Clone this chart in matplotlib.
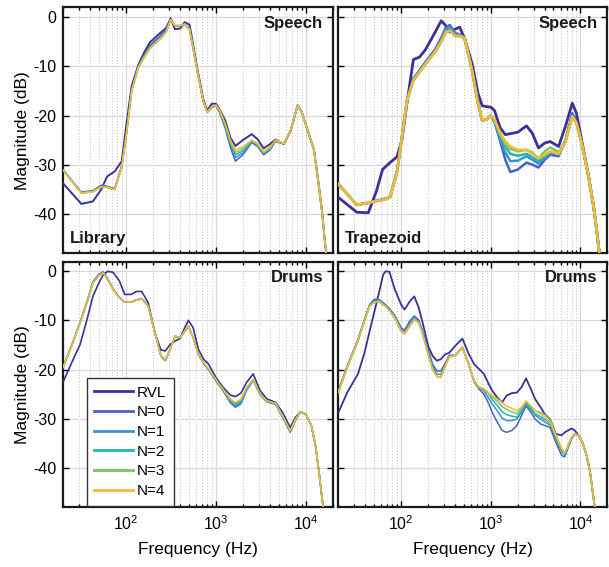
import matplotlib
matplotlib.use("Agg")
import matplotlib.pyplot as plt
from matplotlib.ticker import LogLocator, NullFormatter, FixedLocator

plt.rcParams['font.family'] = ['Liberation Sans', 'DejaVu Sans']
plt.rcParams['axes.unicode_minus'] = False
plt.rcParams['mathtext.fontset'] = 'custom'
plt.rcParams['mathtext.rm'] = 'Liberation Sans'
plt.rcParams['mathtext.it'] = 'Liberation Sans:italic'
plt.rcParams['mathtext.bf'] = 'Liberation Sans:bold'

series_names = ["RVL", "N=0", "N=1", "N=2", "N=3", "N=4"]
colors = ['#3b3196', '#4a62bf', '#3893d8', '#1db8b2', '#7cc65a', '#f8b836']

# ---------------- Top-left: Speech / Library ----------------
F_TL = [20, 32, 43, 53, 62, 75, 90, 102, 116, 137, 160, 185, 240, 280, 315, 350, 400, 450, 510, 620,
        720, 800, 900, 1000, 1100, 1270, 1450, 1650, 2000, 2500, 2900, 3400, 4000, 4600, 5700, 6800, 8100,
        9000, 10300, 12300, 14000, 15200, 16200, 17000]
TL_RVL = [-33.8, -38.0, -37.5, -35.1, -32.4, -31.4, -29.3, -21.5, -14.0, -9.8,
          -7.1, -5.1, -3.2, -2.2, -0.2, -2.4, -2.3, -1.0, -1.5, -10.3,
          -16.5, -19.0, -17.6, -17.6, -18.8, -21.0, -24.5, -26.2, -25.0, -23.8,
          -24.8, -26.7, -25.8, -24.9, -25.8, -23.0, -17.9, -19.3, -22.6, -27.0,
          -34.5, -39.9, -45.3, -48.6]
TL_N0 = [-31.0, -35.6, -35.3, -34.2, -34.4, -34.9, -30.2, -23.0, -14.6, -9.9,
         -7.6, -5.7, -3.8, -2.5, -0.4, -1.8, -1.8, -1.4, -2.4, -10.7,
         -16.9, -19.4, -18.4, -18.0, -19.4, -22.6, -26.5, -29.3, -28.0, -25.5,
         -26.3, -28.0, -27.0, -25.3, -25.8, -23.1, -17.9, -19.3, -22.6, -27.0,
         -34.5, -39.9, -45.3, -48.6]
TL_N1 = [-31.1, -35.7, -35.4, -34.4, -34.5, -35.0, -30.4, -23.3, -14.8, -10.1,
         -7.9, -6.1, -4.2, -2.8, -0.5, -1.7, -1.7, -1.4, -2.4, -10.8,
         -16.9, -19.3, -18.3, -18.0, -19.2, -22.2, -26.0, -28.6, -27.6, -25.3,
         -26.1, -27.8, -26.8, -25.2, -25.7, -23.0, -17.9, -19.3, -22.6, -27.0,
         -34.5, -39.9, -45.3, -48.6]
TL_N2 = [-31.1, -35.8, -35.5, -34.5, -34.6, -35.1, -30.5, -23.5, -15.0, -10.3,
         -8.1, -6.3, -4.4, -3.0, -0.5, -1.7, -1.7, -1.4, -2.4, -10.8,
         -16.9, -19.3, -18.2, -17.9, -19.1, -22.0, -25.6, -28.0, -27.2, -25.2,
         -26.0, -27.6, -26.7, -25.2, -25.7, -23.0, -17.9, -19.3, -22.6, -27.0,
         -34.5, -39.9, -45.3, -48.6]
TL_N3 = [-31.1, -35.8, -35.5, -34.5, -34.6, -35.1, -30.5, -23.5, -15.0, -10.3,
         -8.1, -6.3, -4.4, -3.0, -0.5, -1.7, -1.7, -1.4, -2.4, -10.8,
         -16.9, -19.3, -18.2, -17.9, -19.0, -21.8, -25.3, -27.5, -26.8, -25.1,
         -25.9, -27.5, -26.6, -25.1, -25.7, -23.0, -17.9, -19.3, -22.6, -27.0,
         -34.5, -39.9, -45.3, -48.6]
TL_N4 = [-31.1, -35.8, -35.5, -34.5, -34.6, -35.1, -30.5, -23.5, -15.0, -10.3,
         -8.1, -6.3, -4.4, -3.0, -0.5, -1.7, -1.7, -1.4, -2.4, -10.8,
         -16.9, -19.3, -18.2, -17.9, -18.9, -21.6, -25.0, -27.0, -26.4, -25.0,
         -25.7, -27.4, -26.4, -25.0, -25.7, -23.0, -17.9, -19.3, -22.6, -27.0,
         -34.5, -39.9, -45.3, -48.6]

# ---------------- Top-right: Speech / Trapezoid ----------------
F_TR = F_TL
TR_RVL = [-36.7, -39.7, -39.8, -35.4, -31.0, -29.6, -28.4, -25.0, -17.5, -8.6,
          -8.1, -6.7, -3.0, -0.7, -1.7, -3.0, -2.4, -2.0, -4.4, -9.5,
          -15.5, -18.0, -18.2, -18.3, -19.0, -22.5, -23.9, -23.7, -23.4, -22.1,
          -23.6, -26.6, -25.6, -25.3, -26.3, -22.2, -17.5, -19.5, -25.0, -32.4,
          -38.5, -43.5, -48.0, -52.0]
TR_N0 = [-34.0, -38.2, -37.8, -37.3, -37.1, -36.6, -31.3, -24.3, -16.8, -12.5,
         -10.8, -9.2, -6.5, -4.2, -2.0, -1.6, -3.2, -3.5, -4.0, -11.0,
         -17.5, -21.0, -20.8, -20.0, -21.3, -25.2, -29.0, -31.5, -31.0, -29.6,
         -30.0, -30.6, -29.0, -28.0, -28.3, -25.0, -19.5, -21.2, -25.5, -32.4,
         -38.5, -43.5, -48.0, -52.0]
TR_N1 = [-34.0, -38.2, -37.8, -37.4, -37.2, -36.7, -31.4, -24.4, -16.9, -12.6,
         -11.0, -9.4, -6.8, -4.6, -2.4, -2.0, -3.4, -3.6, -4.1, -11.0,
         -17.5, -21.0, -20.8, -20.0, -21.1, -24.8, -27.5, -29.3, -29.2, -28.3,
         -29.0, -29.8, -28.6, -27.6, -28.0, -25.2, -20.0, -21.4, -25.6, -32.4,
         -38.5, -43.5, -48.0, -52.0]
TR_N2 = [-34.0, -38.2, -37.8, -37.4, -37.2, -36.7, -31.5, -24.5, -17.0, -12.8,
         -11.2, -9.6, -7.0, -5.0, -3.0, -2.7, -3.8, -3.8, -4.2, -11.0,
         -17.5, -21.0, -20.8, -20.0, -21.0, -24.2, -26.3, -27.8, -28.2, -27.8,
         -28.5, -29.3, -28.3, -27.5, -27.9, -25.3, -20.1, -21.5, -25.6, -32.4,
         -38.5, -43.5, -48.0, -52.0]
TR_N3 = [-34.0, -38.2, -37.8, -37.4, -37.2, -36.7, -31.5, -24.5, -17.0, -12.8,
         -11.2, -9.6, -7.0, -5.0, -3.0, -2.7, -3.8, -3.8, -4.2, -11.0,
         -17.5, -21.0, -20.8, -20.0, -20.9, -23.8, -25.8, -26.8, -27.3, -27.0,
         -27.5, -28.8, -27.3, -26.5, -27.5, -25.4, -20.2, -21.5, -25.6, -32.4,
         -38.5, -43.5, -48.0, -52.0]
TR_N4 = [-34.0, -38.2, -37.8, -37.4, -37.2, -36.7, -31.5, -24.5, -17.0, -12.8,
         -11.2, -9.6, -7.0, -5.0, -3.0, -2.7, -3.8, -3.8, -4.2, -11.0,
         -17.5, -21.0, -20.8, -20.0, -20.8, -23.5, -25.3, -26.3, -27.0, -27.0,
         -27.8, -28.7, -28.0, -27.3, -27.8, -25.5, -20.2, -21.5, -25.6, -32.4,
         -38.5, -43.5, -48.0, -52.0]

# ---------------- Bottom-left: Drums / Library ----------------
F_BL = [20, 25, 31, 37, 43, 50, 56, 63, 72, 85, 97, 115, 131, 150, 177, 210, 245, 275, 310, 352,
        400, 450, 495, 560, 640, 730, 830, 1000, 1200, 1450, 1650, 1900, 2200, 2600, 3100, 3700,
        4600, 5500, 6700, 7700, 8700, 10000, 11500, 12800, 14000, 15000, 16000]
BL_RVL = [-22.6, -18.6, -14.9, -9.8, -5.1, -2.4, -0.7, 0.0, -0.2, -2.0,
          -4.7, -4.7, -4.1, -4.1, -6.4, -12.5, -16.0, -16.2, -14.9, -14.2,
          -13.7, -11.5, -10.0, -11.5, -15.9, -17.9, -18.9, -21.6, -23.6, -25.2,
          -25.5, -24.8, -22.6, -20.9, -24.3, -26.0, -26.7, -28.7, -31.8, -29.7,
          -28.6, -29.1, -31.4, -35.5, -40.9, -45.6, -49.7]
BL_N0 = [-19.5, -15.0, -10.3, -6.1, -2.1, -0.6, -0.1, -1.5, -3.5, -5.3,
         -6.2, -6.2, -5.8, -5.5, -7.0, -12.5, -17.3, -18.2, -16.0, -13.3,
         -13.6, -12.3, -11.2, -13.6, -17.0, -18.8, -20.1, -22.3, -24.3, -26.8,
         -27.7, -27.0, -24.2, -22.2, -25.2, -26.6, -27.1, -29.7, -32.8, -30.3,
         -28.7, -29.1, -31.4, -35.5, -40.9, -45.6, -49.7]
BL_N1 = [-19.6, -15.1, -10.4, -6.3, -2.3, -0.8, -0.2, -1.6, -3.6, -5.4,
         -6.3, -6.3, -5.9, -5.6, -7.1, -12.5, -17.2, -18.1, -15.9, -13.2,
         -13.5, -12.2, -11.1, -13.5, -16.9, -18.7, -20.0, -22.2, -24.2, -26.5,
         -27.4, -26.7, -24.0, -22.1, -25.1, -26.5, -27.0, -29.5, -32.7, -30.2,
         -28.6, -29.1, -31.4, -35.5, -40.9, -45.6, -49.7]
BL_N2 = [-19.6, -15.2, -10.5, -6.4, -2.4, -0.9, -0.3, -1.7, -3.7, -5.4,
         -6.3, -6.3, -5.9, -5.6, -7.1, -12.5, -17.2, -18.0, -15.9, -13.2,
         -13.5, -12.2, -11.1, -13.5, -16.9, -18.6, -20.0, -22.1, -24.1, -26.3,
         -27.1, -26.4, -23.8, -22.0, -25.0, -26.4, -26.9, -29.4, -32.6, -30.1,
         -28.6, -29.1, -31.4, -35.5, -40.9, -45.6, -49.7]
BL_N3 = [-19.6, -15.2, -10.5, -6.4, -2.4, -0.9, -0.3, -1.7, -3.7, -5.4,
         -6.3, -6.3, -5.9, -5.6, -7.1, -12.5, -17.2, -18.0, -15.9, -13.2,
         -13.5, -12.2, -11.1, -13.5, -16.9, -18.6, -19.9, -22.0, -24.0, -26.1,
         -26.9, -26.2, -23.7, -22.0, -25.0, -26.4, -26.9, -29.4, -32.5, -30.1,
         -28.6, -29.1, -31.4, -35.5, -40.9, -45.6, -49.7]
BL_N4 = [-19.6, -15.2, -10.5, -6.4, -2.4, -0.9, -0.3, -1.7, -3.7, -5.4,
         -6.3, -6.3, -5.9, -5.6, -7.1, -12.5, -17.2, -18.0, -15.9, -13.2,
         -13.5, -12.2, -11.1, -13.5, -16.9, -18.6, -19.9, -22.0, -24.0, -26.0,
         -26.7, -26.0, -23.6, -22.0, -25.0, -26.4, -26.9, -29.4, -32.4, -30.1,
         -28.6, -29.1, -31.4, -35.5, -40.9, -45.6, -49.7]

# ---------------- Bottom-right: Drums / Trapezoid ----------------
F_BR = [20, 25, 33, 39, 44.5, 50, 56, 63, 67, 74, 85, 100, 109, 125, 140, 157, 174, 200, 224, 250,
        277, 310, 343, 400, 482, 560, 650, 740, 837, 950, 1035, 1180, 1336, 1500, 1720, 1950, 2200,
        2470, 2800, 3115, 3600, 4000, 4580, 5300, 6160, 6670, 7950, 8640, 9500, 10500, 11700, 12800,
        14000, 15000, 16000]
BR_RVL = [-28.7, -24.7, -20.9, -16.6, -12.2, -8.4, -4.7, -0.7, 0.0, -0.1,
          -3.7, -6.8, -7.8, -6.1, -5.1, -7.4, -10.5, -15.2, -17.2, -18.2,
          -17.9, -16.9, -16.6, -15.2, -13.7, -16.6, -18.9, -19.9, -20.9, -23.0,
          -24.3, -25.7, -26.7, -25.3, -24.8, -24.7, -23.6, -21.8, -24.0, -26.0,
          -27.7, -29.1, -30.1, -33.1, -33.4, -32.8, -32.0, -32.4, -33.4, -34.8,
          -37.5, -40.9, -46.3, -50.3, -54.0]
BR_N0 = [-24.3, -19.3, -13.9, -9.8, -6.8, -5.7, -5.7, -6.4, -6.8, -7.6,
         -9.0, -11.5, -12.0, -10.1, -9.1, -9.9, -12.2, -15.9, -18.9, -20.3,
         -20.3, -18.7, -17.1, -17.1, -15.5, -18.7, -22.5, -24.0, -25.0, -27.0,
         -28.7, -30.7, -32.4, -32.8, -32.4, -31.4, -29.4, -27.4, -28.7, -30.1,
         -31.1, -31.4, -31.8, -34.8, -37.5, -37.8, -34.1, -33.2, -33.4, -34.8,
         -37.5, -40.9, -46.3, -50.3, -54.0]
BR_N1 = [-24.4, -19.4, -14.0, -9.9, -7.0, -6.0, -5.9, -6.6, -7.0, -7.8,
         -9.3, -11.9, -12.4, -10.6, -9.5, -10.2, -12.5, -16.4, -19.4, -20.9,
         -21.0, -19.0, -17.3, -17.2, -15.5, -18.6, -22.4, -23.8, -24.3, -25.9,
         -27.0, -28.4, -29.9, -30.4, -30.4, -30.1, -28.7, -26.9, -28.2, -29.3,
         -30.1, -30.7, -31.3, -34.0, -36.7, -37.4, -33.9, -33.1, -33.4, -34.8,
         -37.5, -40.9, -46.3, -50.3, -54.0]
BR_N2 = [-24.6, -19.5, -14.1, -10.0, -7.1, -6.2, -6.0, -6.7, -7.1, -8.0,
         -9.5, -12.2, -12.7, -11.1, -9.8, -10.5, -12.8, -16.9, -19.9, -21.4,
         -21.6, -19.3, -17.4, -17.2, -15.5, -18.6, -22.3, -23.6, -24.0, -25.0,
         -26.1, -27.3, -28.6, -29.2, -29.5, -29.7, -28.3, -26.7, -27.9, -29.0,
         -29.6, -30.2, -30.9, -33.6, -36.4, -37.2, -33.8, -33.1, -33.4, -34.8,
         -37.5, -40.9, -46.3, -50.3, -54.0]
BR_N3 = [-24.7, -19.6, -14.2, -10.1, -7.1, -6.3, -6.1, -6.8, -7.1, -8.0,
         -9.5, -12.2, -12.7, -11.1, -9.8, -10.5, -12.8, -16.9, -19.9, -21.4,
         -21.6, -19.3, -17.4, -17.2, -15.5, -18.6, -22.3, -23.6, -24.0, -24.9,
         -25.5, -26.5, -27.5, -28.1, -28.6, -29.0, -28.0, -26.5, -27.5, -28.4,
         -28.8, -29.2, -30.0, -33.2, -36.2, -37.1, -33.8, -33.1, -33.4, -34.8,
         -37.5, -40.9, -46.3, -50.3, -54.0]
BR_N4 = [-24.7, -19.6, -14.2, -10.1, -7.1, -6.3, -6.1, -6.8, -7.1, -8.0,
         -9.5, -12.2, -12.7, -11.1, -9.8, -10.5, -12.8, -16.9, -19.9, -21.4,
         -21.6, -19.3, -17.4, -17.2, -15.5, -18.6, -22.3, -23.6, -24.0, -24.8,
         -25.3, -26.0, -26.7, -27.5, -27.9, -28.4, -27.7, -26.4, -27.4, -28.4,
         -29.1, -29.7, -30.7, -33.4, -36.1, -37.0, -33.8, -33.1, -33.4, -34.8,
         -37.5, -40.9, -46.3, -50.3, -54.0]

x_ticks = [100, 1000, 10000]
x_tick_labels = [r'$10^2$', r'$10^3$', r'$10^4$']
y_ticks = [0, -10, -20, -30, -40]
y_tick_labels = ['0', '-10', '-20', '-30', '-40']

panels = [
    dict(f=F_TL, data=[TL_RVL, TL_N0, TL_N1, TL_N2, TL_N3, TL_N4], sig="Speech", room="Library",
         rect=[0.1034, 0.5538, 0.4433, 0.4330], lw=(1.4, 1.1)),
    dict(f=F_TR, data=[TR_RVL, TR_N0, TR_N1, TR_N2, TR_N3, TR_N4], sig="Speech", room="Trapezoid",
         rect=[0.5558, 0.5538, 0.4417, 0.4330], lw=(2.0, 1.8)),
    dict(f=F_BL, data=[BL_RVL, BL_N0, BL_N1, BL_N2, BL_N3, BL_N4], sig="Drums", room=None,
         rect=[0.1034, 0.1058, 0.4433, 0.4330], lw=(1.2, 1.0)),
    dict(f=F_BR, data=[BR_RVL, BR_N0, BR_N1, BR_N2, BR_N3, BR_N4], sig="Drums", room=None,
         rect=[0.5558, 0.1058, 0.4417, 0.4330], lw=(1.3, 1.1)),
]

fig = plt.figure(figsize=(6.09, 5.67), dpi=100)

for i, p in enumerate(panels):
    ax = fig.add_axes(p['rect'])
    ax.set_xscale('log')
    for k, (name, vals) in enumerate(zip(series_names, p['data'])):
        lw = p['lw'][0] if k == 0 else p['lw'][1]
        ax.plot(p['f'], vals, color=colors[k], lw=lw, label=name, zorder=3 + k)
    ax.set_xlim(20, 20000)
    ax.set_ylim(-48, 2)
    ax.xaxis.set_major_locator(FixedLocator(x_ticks))
    ax.set_xticks(x_ticks)
    ax.xaxis.set_minor_locator(LogLocator(base=10, subs=range(2, 10), numticks=20))
    ax.xaxis.set_minor_formatter(NullFormatter())
    ax.set_yticks(y_ticks)
    ax.grid(True, which='major', color='#d9d9d9', lw=0.9, ls='-', zorder=0)
    ax.grid(True, which='minor', axis='x', color='#bfbfbf', lw=0.7, ls=(0, (1, 2)), zorder=0)
    ax.tick_params(which='both', direction='in', top=True, right=True, labelsize=11.5, width=1.0)
    ax.tick_params(which='major', length=4.5, pad=5)
    ax.tick_params(which='minor', length=2.5)
    for sp in ax.spines.values():
        sp.set_linewidth(1.6)
        sp.set_color('#1a1a1a')
    if i >= 2:
        ax.set_xticklabels(x_tick_labels)
        ax.set_xlabel('Frequency (Hz)', fontsize=12.5, labelpad=7)
    else:
        ax.set_xticklabels([])
    if i % 2 == 0:
        ax.set_yticklabels(y_tick_labels)
        ax.set_ylabel('Magnitude (dB)', fontsize=12.5, labelpad=2)
    else:
        ax.set_yticklabels([])
    ax.text(0.963, 0.935, p['sig'], transform=ax.transAxes, ha='right', va='center',
            fontsize=12, fontweight='bold', color='#1a1a1a', zorder=10)
    if p['room']:
        ax.text(0.025, 0.06, p['room'], transform=ax.transAxes, ha='left', va='center',
                fontsize=12, fontweight='bold', color='#1a1a1a', zorder=10)
    if i == 2:
        leg = ax.legend(loc='lower left', bbox_to_anchor=(0.088, 0.006), fontsize=11,
                        handlelength=2.5, labelspacing=0.37, borderpad=0.5,
                        handletextpad=0.3, fancybox=False, framealpha=1, borderaxespad=0)
        leg.get_frame().set_edgecolor('#333333')
        leg.get_frame().set_linewidth(1.0)
        for ln in leg.get_lines():
            ln.set_linewidth(2.0)

fig.savefig('out.png', dpi=100)
